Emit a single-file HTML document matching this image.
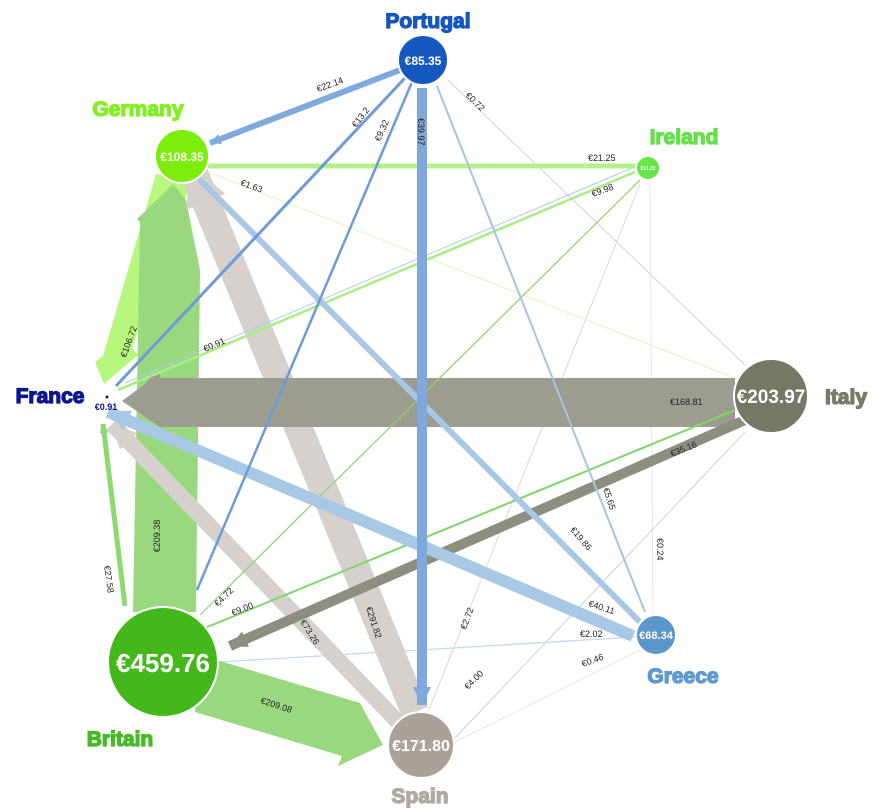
<!DOCTYPE html>
<html><head><meta charset="utf-8"><style>
html,body{margin:0;padding:0;background:#fff;}
svg{display:block;}
.l{font-family:"Liberation Sans",sans-serif;font-size:9px;fill:#222;}
.n{font-family:"Liberation Sans",sans-serif;font-weight:bold;fill:#fff;text-anchor:middle;}
.t{font-family:"Liberation Sans",sans-serif;font-weight:900;font-size:21px;text-anchor:middle;stroke-width:1.3;}
</style></head><body>
<svg width="879" height="810" viewBox="0 0 879 810" xmlns="http://www.w3.org/2000/svg">
<defs>
<marker id="mb" viewBox="0 0 10 10" refX="10" refY="5" markerWidth="1.8" markerHeight="1.8" orient="auto"><path d="M0,0L10,5L0,10z" fill="#7fa8dc"/></marker>
<marker id="mlb" viewBox="0 0 10 10" refX="10" refY="5" markerWidth="1.8" markerHeight="1.8" orient="auto"><path d="M0,0L10,5L0,10z" fill="#a9c8e6"/></marker>
<marker id="mgr" viewBox="0 0 10 10" refX="10" refY="5" markerWidth="1.5" markerHeight="1.5" orient="auto"><path d="M0,0L10,5L0,10z" fill="#d6d1cc"/></marker>
<marker id="mol" viewBox="0 0 10 10" refX="10" refY="5" markerWidth="1.7" markerHeight="1.7" orient="auto"><path d="M0,0L10,5L0,10z" fill="#8e8e80"/></marker>
<marker id="mg" viewBox="0 0 10 10" refX="10" refY="5" markerWidth="1.8" markerHeight="1.8" orient="auto"><path d="M0,0L10,5L0,10z" fill="#8fd870"/></marker>
</defs>

<line x1="745" y1="365" x2="448" y2="80" stroke="#c8d4e4" stroke-width="1"/>
<line x1="208" y1="172" x2="735" y2="378" stroke="#e4f4c0" stroke-width="1"/>
<line x1="653" y1="614" x2="650" y2="184" stroke="#e6e6e6" stroke-width="1"/>
<line x1="745" y1="432" x2="455" y2="738" stroke="#d0d0d0" stroke-width="1"/>
<line x1="640" y1="650" x2="455" y2="742" stroke="#e8e4e0" stroke-width="1"/>
<line x1="428" y1="712" x2="640" y2="184" stroke="#d8d8d8" stroke-width="1"/>
<line x1="635" y1="637" x2="220" y2="662" stroke="#c4d8ec" stroke-width="1.2"/>

<!-- Germany->France -->
<polygon points="156,174 192,180 132,348 138,355 104,384 95,362 103,356" fill="#b8f77e"/>
<!-- big green Britain->Germany -->
<polygon points="133,612 196,612 200,270 186,200 173,184 137,219 140,222" fill="#9ad880"/>
<!-- Britain->Spain -->
<polygon points="200,655 360,703 383,745 338,766 342,756 195,712" fill="#9ad880"/>
<line x1="125" y1="606" x2="103" y2="424" stroke="#8fd870" stroke-width="5" marker-end="url(#mg)"/>
<line x1="398" y1="722" x2="112" y2="424" stroke="#d6d1cc" stroke-width="16" marker-end="url(#mgr)"/>
<line x1="415" y1="712" x2="190" y2="163" stroke="#d6d1cc" stroke-width="28" marker-end="url(#mgr)"/>
<polygon points="735,378 735,427 160,427 122,401 145,384 150,378" fill="#9d9c90"/>
<polygon points="150,378 160,372 160,380" fill="#9d9c90"/>
<line x1="745" y1="420" x2="230" y2="646" stroke="#8e8e80" stroke-width="10" marker-end="url(#mol)"/>
<line x1="205" y1="628" x2="735" y2="410" stroke="#7fd66a" stroke-width="2"/>
<line x1="200" y1="615" x2="640" y2="180" stroke="#8fd16a" stroke-width="1.2"/>
<line x1="118" y1="390" x2="635" y2="172" stroke="#a8ee80" stroke-width="2.5"/>
<line x1="125" y1="383" x2="632" y2="168" stroke="#b4c8e8" stroke-width="1"/>
<line x1="208" y1="166" x2="638" y2="166" stroke="#b6f08a" stroke-width="5"/>
<line x1="640" y1="622" x2="188" y2="168" stroke="#a9c8e6" stroke-width="6" marker-end="url(#mlb)"/>
<line x1="633" y1="636" x2="108" y2="412" stroke="#a9c8e6" stroke-width="12" marker-end="url(#mlb)"/>
<line x1="645" y1="612" x2="437" y2="86" stroke="#a8c4e0" stroke-width="2"/>
<line x1="400" y1="70" x2="210" y2="143" stroke="#7fa8dc" stroke-width="6" marker-end="url(#mb)"/>
<line x1="405" y1="78" x2="116" y2="386" stroke="#6f9ad8" stroke-width="3"/>
<line x1="412" y1="82" x2="197" y2="590" stroke="#6f9ad8" stroke-width="2.5"/>
<line x1="422" y1="88" x2="422" y2="705" stroke="#7fa8dc" stroke-width="10" marker-end="url(#mb)"/>

<text class="l" transform="translate(318,92) rotate(-20)">€22.14</text>
<text class="l" transform="translate(356,128) rotate(-52)">€13.2</text>
<text class="l" transform="translate(380,142) rotate(-66)">€9.32</text>
<text class="l" transform="translate(418,118) rotate(90)">€39.97</text>
<text class="l" transform="translate(465,96) rotate(44)">€0.72</text>
<text class="l" x="588" y="161">€21.25</text>
<text class="l" transform="translate(593,197) rotate(-20)">€9.98</text>
<text class="l" transform="translate(240,185) rotate(20)">€1.63</text>
<text class="l" transform="translate(126,358) rotate(-70)">€106.72</text>
<text class="l" transform="translate(205,352) rotate(-23)">€0.91</text>
<text class="l" transform="translate(670,405)">€168.81</text>
<text class="l" transform="translate(672,457) rotate(-22)">€35.16</text>
<text class="l" transform="translate(160,536) rotate(-90)" text-anchor="middle">€209.38</text>
<text class="l" transform="translate(104,566) rotate(82)">€27.58</text>
<text class="l" transform="translate(218,607) rotate(-45)">€4.72</text>
<text class="l" transform="translate(233,616) rotate(-22)">€9.00</text>
<text class="l" transform="translate(300,622) rotate(58)">€73.26</text>
<text class="l" transform="translate(366,608) rotate(72)">€291.82</text>
<text class="l" transform="translate(260,703) rotate(18)">€209.08</text>
<text class="l" transform="translate(466,630) rotate(-70)">€2.72</text>
<text class="l" transform="translate(468,690) rotate(-45)">€4.00</text>
<text class="l" transform="translate(570,530) rotate(50)">€19.86</text>
<text class="l" transform="translate(603,489) rotate(72)">€5.65</text>
<text class="l" transform="translate(657,538) rotate(90)">€0.24</text>
<text class="l" transform="translate(588,606) rotate(18)">€40.11</text>
<text class="l" x="580" y="637">€2.02</text>
<text class="l" transform="translate(583,667) rotate(-20)">€0.46</text>

<circle cx="423" cy="60" r="25" fill="#1558c0" stroke="#fff" stroke-width="2"/>
<text class="n" x="423" y="65" font-size="12">€85.35</text>
<circle cx="182" cy="156" r="27" fill="#7ded0a" stroke="#fff" stroke-width="2"/>
<text class="n" x="182" y="161" font-size="12">€108.35</text>
<circle cx="648" cy="168" r="12" fill="#66e64a" stroke="#fff" stroke-width="2"/>
<text class="n" x="648" y="170" font-size="5">€11.22</text>
<circle cx="771" cy="396" r="37" fill="#777766" stroke="#fff" stroke-width="2"/>
<text class="n" x="771" y="403" font-size="19">€203.97</text>
<circle cx="656" cy="635" r="20" fill="#5b96cc" stroke="#fff" stroke-width="2"/>
<text class="n" x="656" y="639" font-size="11">€68.34</text>
<circle cx="163" cy="662" r="55" fill="#44b81a" stroke="#fff" stroke-width="2"/>
<text class="n" x="163" y="672" font-size="26">€459.76</text>
<circle cx="421" cy="745" r="33" fill="#aaa199" stroke="#fff" stroke-width="2"/>
<text class="n" x="421" y="751" font-size="16">€171.80</text>
<circle cx="107" cy="397" r="1.5" fill="#0b168f"/>
<text x="106" y="410" font-family="Liberation Sans,sans-serif" font-weight="bold" font-size="9" fill="#0b168f" text-anchor="middle">€0.91</text>

<text class="t" x="428" y="28" fill="#1656c0" stroke="#1656c0">Portugal</text>
<text class="t" x="138" y="116" fill="#80f020" stroke="#80f020">Germany</text>
<text class="t" x="684" y="144" fill="#66e04a" stroke="#66e04a">Ireland</text>
<text class="t" x="50" y="403" fill="#0b168f" stroke="#0b168f">France</text>
<text class="t" x="846" y="404" fill="#7a7a68" stroke="#7a7a68">Italy</text>
<text class="t" x="683" y="683" fill="#5e9ad0" stroke="#5e9ad0">Greece</text>
<text class="t" x="120" y="746" fill="#44bb22" stroke="#44bb22">Britain</text>
<text class="t" x="420" y="803" fill="#b0a9a2" stroke="#b0a9a2">Spain</text>
</svg>
</body></html>
